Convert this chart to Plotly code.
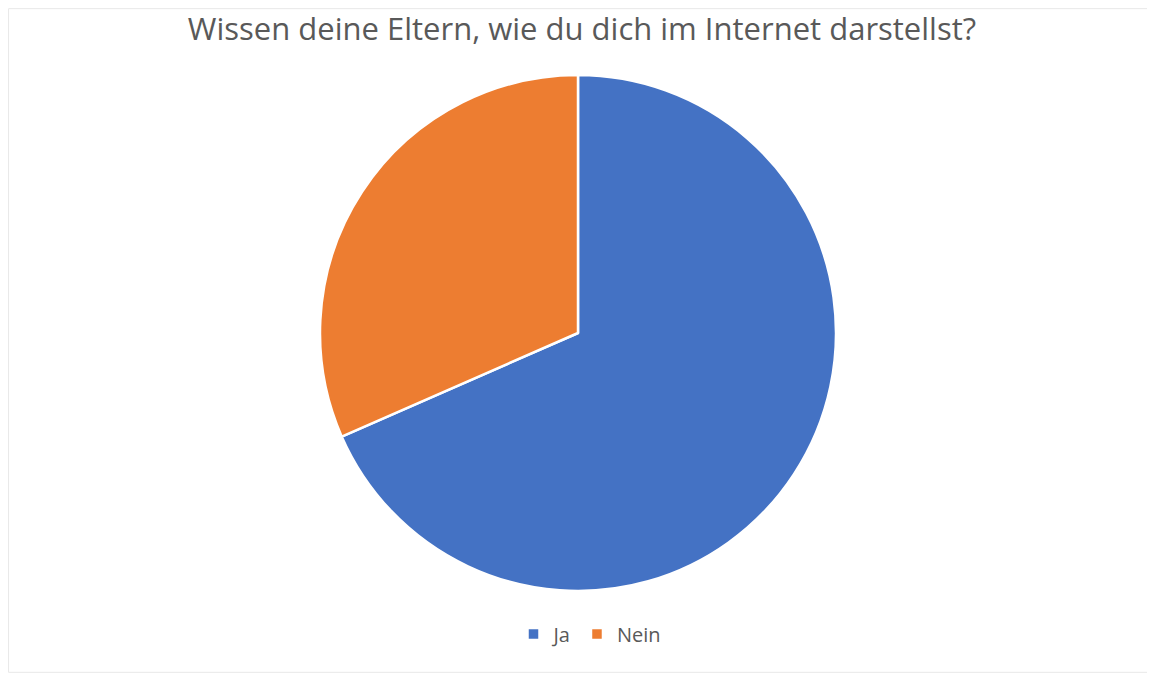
import plotly.graph_objects as go

labels = ["Ja", "Nein"]
values = [13, 6]
colors = ["#4472C4", "#ED7D31"]
title_text = "Wissen deine Eltern, wie du dich im Internet darstellst?"

# page body has an 8px margin; figure coordinates below are screen - 8
W, H = 1147, 665
cx, cy, r = 570, 325, 258

fig = go.Figure(go.Pie(
    labels=labels,
    values=values,
    marker=dict(colors=colors, line=dict(color="white", width=2.5)),
    sort=False,
    direction="clockwise",
    rotation=0,
    textinfo="none",
    domain=dict(x=[(cx - r) / W, (cx + r) / W], y=[1 - (cy + r) / H, 1 - (cy - r) / H]),
))

fig.update_layout(
    width=W, height=H,
    margin=dict(l=0, r=0, t=0, b=0),
    paper_bgcolor="white",
    title=dict(text=title_text, x=(582 - 8) / W, xanchor="center", y=1 - 21 / H, yanchor="middle",
               font=dict(family="Open Sans", size=31, color="#595959")),
    legend=dict(orientation="h", x=(590 - 8) / W, xanchor="center", y=1 - 626 / H, yanchor="middle",
                font=dict(family="Open Sans", size=20, color="#595959"), itemwidth=30),
    shapes=[dict(type="rect", xref="paper", yref="paper", x0=0.0005, x1=0.9985, y0=0.001, y1=0.999,
                 line=dict(color="#E8E8E8", width=1))],
)

fig.write_html("out.html")
